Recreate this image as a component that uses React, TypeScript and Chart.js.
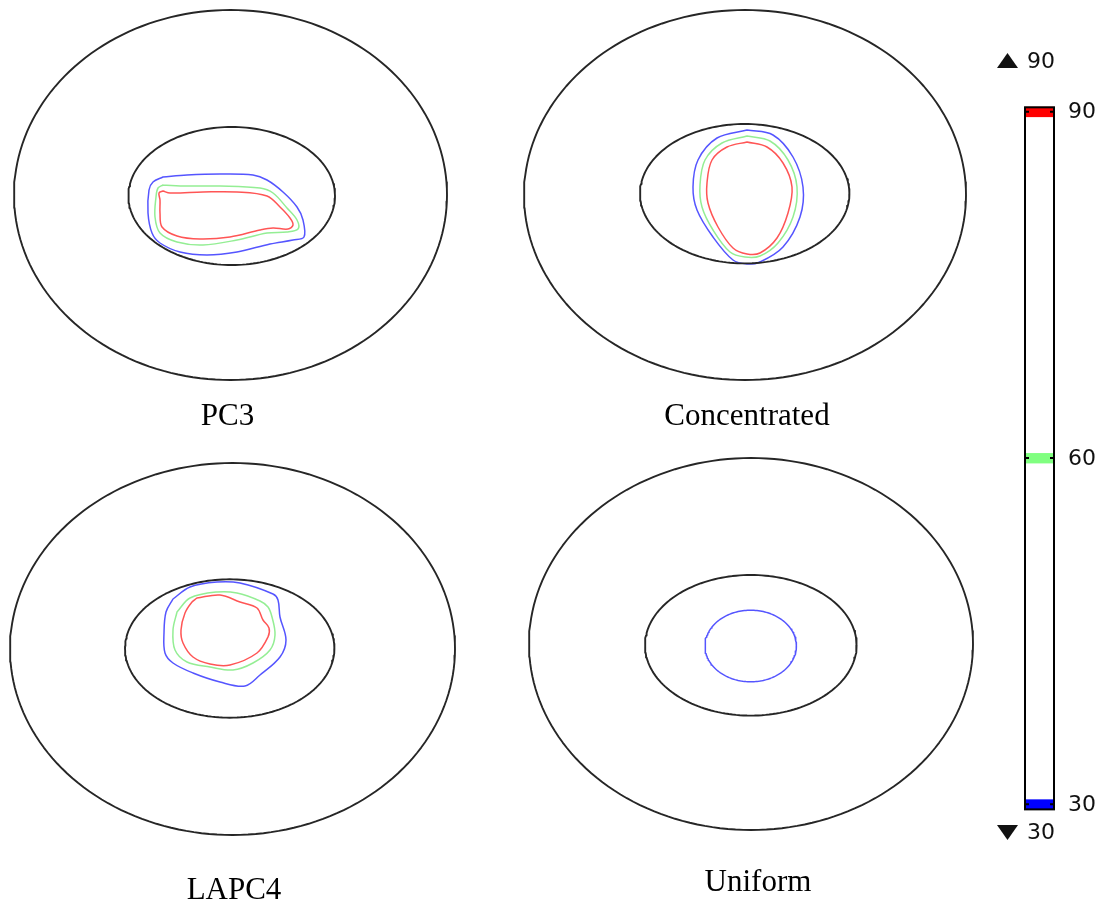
import React, { useEffect, useRef } from 'react';
import { Chart, registerables } from 'chart.js';

Chart.register(...registerables);

// ---- data ----
const panelNames = ['PC3', 'Concentrated', 'LAPC4', 'Uniform'];
// boundary ellipses [cx, cy, rx, ry]
const outerBoundary = [
  [230.5, 195, 216.5, 185],
  [745, 195, 221, 185],
  [232.5, 649, 222.5, 186],
  [751, 644, 222, 186],
];
const innerBoundary = [
  [231.7, 196, 103.3, 69],
  [744.7, 193.7, 104.7, 69.7],
  [229.7, 648.5, 104.7, 69.2],
  [750.8, 645.3, 105.8, 70.3],
];

const levels = [30, 60, 90];
const levelColors = ['#5555ff', '#94ee94', '#ff5555'];
const barColors = ['#0000ff', '#80ff80', '#ff0000'];
const cbMin = 29.56;
const cbMax = 90.38;

// iso-contours (level 30, 60, 90)
const pc3Level30 = [[163,177],[187,175],[220,174],[253,175],[267,180],[283,192],[297,207],[303,220],[304,237],[293,240],[270,244],[237,252],[207,255],[180,252],[160,243],[152,233],[148,213],[149,190],[153,182]];
const pc3Level60 = [[163,185],[187,186],[220,186],[260,188],[273,193],[287,208],[297,220],[298,229],[287,232],[267,233],[237,240],[203,245],[177,242],[160,233],[155,217],[156,197],[158,188]];
const pc3Level90 = [[163,191],[170,193],[203,192],[237,192],[267,196],[280,207],[290,218],[293,225],[288,229],[273,228],[260,230],[230,237],[200,239],[177,236],[162,227],[160,213],[160,200],[159,193]];

const concLevel30 = [[747,130],[773,135],[793,157],[803,187],[800,217],[783,247],[760,262],[747,264],[733,260],[713,237],[697,210],[693,187],[698,160],[717,138]];
const concLevel60 = [[747,136],[770,141],[788,160],[797,187],[793,217],[778,243],[760,256],[745,257],[730,252],[713,230],[702,207],[700,185],[705,160],[722,143]];
const concLevel90 = [[747,142],[767,147],[783,163],[792,187],[788,213],[777,238],[760,253],[747,254],[733,248],[718,227],[708,203],[707,183],[712,160],[727,147]];

const lapcLevel30 = [[173,599],[190,587],[217,582],[240,583],[273,594],[278,600],[280,617],[286,640],[280,657],[260,675],[245,686],[220,682],[193,673],[173,663],[165,653],[164,633],[166,612]];
const lapcLevel60 = [[177,612],[190,598],[217,592],[237,593],[260,601],[268,607],[272,617],[275,635],[270,650],[253,663],[233,670],[210,667],[187,662],[175,650],[173,630]];
const lapcLevel90 = [[197,598],[220,595],[240,602],[257,608],[263,620],[269,628],[268,637],[257,653],[230,665],[210,664],[193,657],[183,643],[181,630],[185,613],[192,602]];

// uniform case: level-30 contour is an ellipse [cx, cy, rx, ry]
const uniformLevel30 = [750.7, 646, 45.7, 35.8];

// label anchors
const labelX = [227.5, 747, 234, 758];
const labelY = [425, 425, 899, 891];

// ---- helpers ----
function ellipsePoints(e: number[]) {
  const [cx, cy, rx, ry] = e;
  const pts: { x: number; y: number }[] = [];
  const n = 180;
  for (let i = 0; i <= n; i++) {
    const t = (i / n) * Math.PI * 2;
    pts.push({ x: cx + rx * Math.cos(t), y: cy + ry * Math.sin(t) });
  }
  return pts;
}
function closed(p: number[][]) {
  const pts = p.map(([x, y]) => ({ x, y }));
  pts.push({ ...pts[0] });
  return pts;
}

const annotPlugin = {
  id: 'annot',
  afterDatasetsDraw(chart: any) {
    const ctx = chart.ctx as CanvasRenderingContext2D;
    const yb = chart.scales.yBar;
    const xs = chart.scales.x;
    ctx.save();
    // colorbar frame
    const left = xs.getPixelForValue(1025);
    const right = xs.getPixelForValue(1054);
    const top = yb.getPixelForValue(cbMax);
    const bottom = yb.getPixelForValue(cbMin);
    ctx.strokeStyle = '#000';
    ctx.lineWidth = 2;
    ctx.strokeRect(left, top, right - left, bottom - top);
    // tick dashes + labels
    ctx.font = '22px "DejaVu Sans"';
    ctx.fillStyle = '#111';
    ctx.textBaseline = 'middle';
    ctx.textAlign = 'left';
    levels.forEach((l) => {
      const y = yb.getPixelForValue(l);
      ctx.beginPath();
      ctx.moveTo(left, y);
      ctx.lineTo(left + 4, y);
      ctx.moveTo(right - 4, y);
      ctx.lineTo(right, y);
      ctx.stroke();
      ctx.fillText(String(l), 1068, y + 1);
    });
    // max / min indicators
    const maxV = levels[levels.length - 1];
    const minV = levels[0];
    ctx.beginPath();
    ctx.moveTo(997, 68);
    ctx.lineTo(1018, 68);
    ctx.lineTo(1007.5, 53);
    ctx.closePath();
    ctx.fill();
    ctx.fillText(String(maxV), 1027, 62);
    ctx.beginPath();
    ctx.moveTo(997, 825);
    ctx.lineTo(1018, 825);
    ctx.lineTo(1007.5, 840);
    ctx.closePath();
    ctx.fill();
    ctx.fillText(String(minV), 1027, 833);
    // panel labels
    ctx.font = '31px "Liberation Serif"';
    ctx.fillStyle = '#000';
    ctx.textAlign = 'center';
    ctx.textBaseline = 'alphabetic';
    panelNames.forEach((n, i) => ctx.fillText(n, labelX[i], labelY[i]));
    ctx.restore();
  },
};

export default function App() {
  const ref = useRef<HTMLCanvasElement>(null);
  useEffect(() => {
    if (!ref.current) return;
    const lineDs = (data: any[], color: string, width: number) => ({
      type: 'scatter' as const,
      data,
      showLine: true,
      borderColor: color,
      borderWidth: width,
      borderJoinStyle: 'round',
      borderCapStyle: 'round',
      pointRadius: 0,
      tension: 0,
      fill: false,
      xAxisID: 'x',
      yAxisID: 'y',
    });
    const contourDs = (p: number[][], li: number) => ({
      ...lineDs(closed(p), levelColors[li], 1.5),
      tension: 0.35,
    });
    const datasets: any[] = [];
    outerBoundary.forEach((e) => datasets.push(lineDs(ellipsePoints(e), '#262626', 1.9)));
    innerBoundary.forEach((e) => datasets.push(lineDs(ellipsePoints(e), '#262626', 1.9)));
    [
      [pc3Level30, pc3Level60, pc3Level90],
      [concLevel30, concLevel60, concLevel90],
      [lapcLevel30, lapcLevel60, lapcLevel90],
    ].forEach((set) => set.forEach((p, li) => datasets.push(contourDs(p, li))));
    datasets.push(lineDs(ellipsePoints(uniformLevel30), levelColors[0], 1.5));
    datasets.push({
      type: 'bar',
      data: levels.map((l) => ({ x: 1039.5, y: [l - 0.44, l + 0.4] })),
      backgroundColor: barColors,
      borderWidth: 0,
      barThickness: 29,
      grouped: false,
      xAxisID: 'x',
      yAxisID: 'yBar',
    });

    const chart = new Chart(ref.current, {
      type: 'scatter',
      data: { datasets },
      options: {
        animation: false,
        responsive: false,
        devicePixelRatio: 1,
        events: [],
        layout: { padding: 0 },
        plugins: { legend: { display: false }, tooltip: { enabled: false } },
        scales: {
          x: { type: 'linear', min: 0, max: 1109, offset: false, display: false },
          y: { type: 'linear', min: 0, max: 905, reverse: true, offset: false, display: false },
          yBar: { type: 'linear', min: 21.276, max: 99.677, offset: false, display: false },
        },
      },
      plugins: [annotPlugin],
    } as any);
    return () => chart.destroy();
  }, []);
  return (
    <div style={{ position: 'absolute', left: 0, top: 0, width: 1109, height: 905, background: '#fff' }}>
      <canvas ref={ref} width={1109} height={905} />
    </div>
  );
}
